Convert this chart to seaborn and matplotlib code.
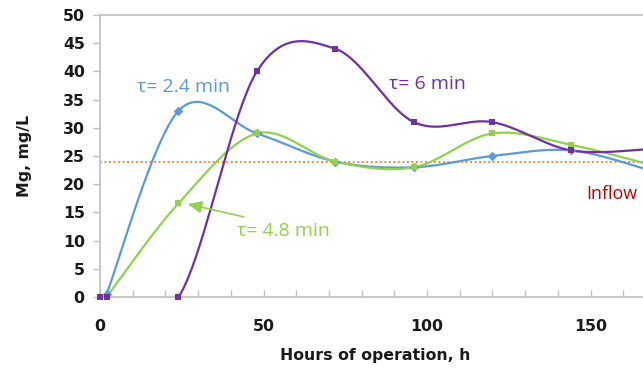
import numpy as np
import pandas as pd
import seaborn as sns
import matplotlib
matplotlib.use("Agg")
import matplotlib.pyplot as plt

# Mg concentration over time for three residence times
hours_24 = [2, 24, 48, 72, 96, 120, 144, 168]
mg_24 = [0.5, 33, 29, 24, 23, 25, 26, 22.5]

hours_48 = [2, 24, 48, 72, 96, 120, 144, 168]
mg_48 = [0, 16.6, 29, 24, 23, 29, 27, 23.5]

hours_6 = [0, 2, 24, 48, 72, 96, 120, 144, 168]
mg_6 = [0, 0, 0, 40, 44, 31, 31, 26, 26.2]

inflow_mg = 24

series_names = ["τ= 2.4 min", "τ= 4.8 min", "τ= 6 min"]
series_colors = ["#5B9BD5", "#92D050", "#7030A0"]
series_markers = ["D", "s", "s"]


def smooth_curve(x, y, n=40):
    """Bezier smoothing through every point (Catmull-Rom style tangents)."""
    p = np.column_stack([x, y]).astype(float)
    out = []
    for i in range(len(p) - 1):
        p0 = p[i - 1] if i > 0 else p[i]
        p1, p2 = p[i], p[i + 1]
        p3 = p[i + 2] if i + 2 < len(p) else p[i + 1]
        c1 = p1 + (p2 - p0) / 6.0
        c2 = p2 - (p3 - p1) / 6.0
        t = np.linspace(0, 1, n)[:, None]
        seg = ((1 - t) ** 3) * p1 + 3 * ((1 - t) ** 2) * t * c1 + 3 * (1 - t) * t ** 2 * c2 + t ** 3 * p2
        out.append(seg if i == 0 else seg[1:])
    out = np.vstack(out)
    return out[:, 0], out[:, 1]


sns.set_theme(style="white")
plt.rcParams["font.family"] = ["Open Sans", "DejaVu Sans"]

fig = plt.figure(figsize=(6.43, 3.70), dpi=100)
ax = fig.add_axes([100 / 643, 73 / 370, 543 / 643, 282 / 370])

palette = dict(zip(series_names, series_colors))

ax.axhline(inflow_mg, color="#ED7D31", lw=1.3, ls=(0, (1, 1.5)), zorder=1)

for name, mk, xs, ys in zip(series_names, series_markers,
                            [hours_24, hours_48, hours_6], [mg_24, mg_48, mg_6]):
    sx, sy = smooth_curve(xs, ys)
    curve = pd.DataFrame({"hours": sx, "mg": sy})
    pts = pd.DataFrame({"hours": xs, "mg": ys})
    sns.lineplot(data=curve, x="hours", y="mg", estimator=None, sort=False,
                 color=palette[name], lw=1.6, ax=ax, zorder=2)
    sns.scatterplot(data=pts, x="hours", y="mg", color=palette[name], marker=mk,
                    s=24, linewidth=0, legend=False, ax=ax, zorder=3, clip_on=False)

ax.set_xlim(0, 543 / 3.27)
ax.set_ylim(0, 50)
ax.set_xticks([0, 50, 100, 150])
ax.set_xticks(np.arange(0, 170, 10), minor=True)
ax.set_yticks(np.arange(0, 51, 5))

for side in ["top", "left", "bottom"]:
    ax.spines[side].set_color("#BFBFBF")
    ax.spines[side].set_linewidth(1.2)
ax.spines["right"].set_visible(False)

tick_font = dict(family="DejaVu Sans", weight="bold", size=11.3)
ax.tick_params(axis="x", which="both", direction="in", length=5, color="#BFBFBF",
               width=1, pad=16, bottom=True)
ax.tick_params(axis="y", which="major", direction="out", length=5, color="#BFBFBF",
               width=1, pad=6, left=True)
for lab in ax.get_xticklabels() + ax.get_yticklabels():
    lab.set_fontproperties(tick_font)
    lab.set_color("#1A1A1A")

ax.set_xlabel("Hours of operation, h", fontdict=tick_font, color="#1A1A1A")
ax.set_ylabel("Mg, mg/L", fontdict=tick_font, color="#1A1A1A")
ax.xaxis.set_label_coords((375 - 100) / 543, -(348 - 297) / 282)
ax.yaxis.set_label_coords(-(100 - 32) / 543, 0.5)

ax.text(11.3, 36.3, "τ= 2.4 min", color="#5B9BD5", fontsize=14)
ax.text(88.5, 36.9, "τ= 6 min", color="#7030A0", fontsize=14)
ax.text(42, 10.9, "τ= 4.8 min", color="#92D050", fontsize=14)
ax.text(148.8, 17.3, "Inflow", color="#C00000", fontsize=12.8)
ax.annotate("", xy=(26, 16.6), xytext=(44, 14.2),
            arrowprops=dict(arrowstyle="-|>,head_length=0.7,head_width=0.3",
                            color="#92D050", lw=1.2, shrinkA=0, shrinkB=2))

fig.savefig("out.png", dpi=100)
